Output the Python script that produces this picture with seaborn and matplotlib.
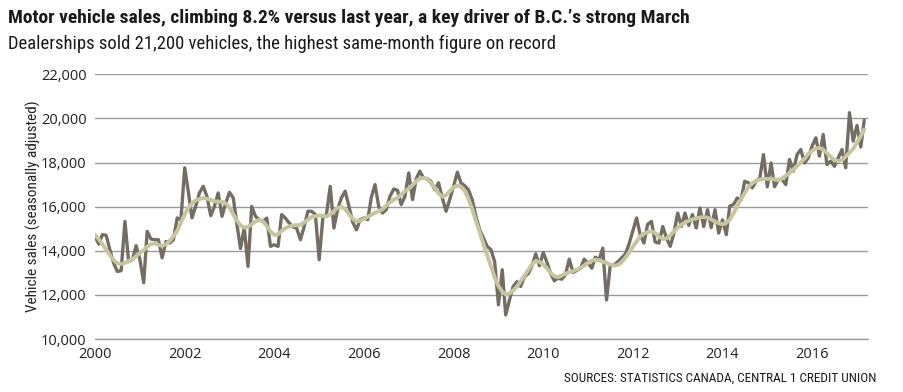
import numpy as np
import pandas as pd
import seaborn as sns
import matplotlib.pyplot as plt
import matplotlib.dates as mdates
from matplotlib.ticker import FuncFormatter
from matplotlib import font_manager

"""
Data - monthly B.C. motor vehicle sales, Jan 2000 to Mar 2017 (read off the chart)
"""
sales = [
    14650, 14300, 14730, 14700, 14050, 13440, 13060, 13100, 15330, 13510,
    13600, 14230, 13600, 12550, 14880, 14530, 14500, 14500, 13680, 14420,
    14350, 14500, 15490, 15400, 17760, 16620, 15490, 16020, 16620, 16920,
    16470, 15590, 16020, 16620, 15560, 16160, 16650, 16390, 15260, 14100,
    15050, 13290, 16010, 15560, 15400, 15330, 15480, 14200, 14270, 14200,
    15640, 15480, 15260, 15080, 15030, 14500, 15100, 15790, 15790, 15640,
    13590, 15560, 15640, 16920, 15030, 15900, 16400, 16700, 16000, 15300,
    14950, 15410, 15490, 15410, 16400, 17000, 16010, 15710, 15860, 16470,
    16800, 16740, 16090, 16470, 17530, 16320, 17230, 17610, 17300, 17260,
    17150, 16770, 17080, 16400, 15790, 16320, 16920, 17560, 17080, 16950,
    16770, 16320, 15560, 14960, 14580, 14200, 14050, 13500, 11550, 13140,
    11090, 11770, 12380, 12600, 12380, 12830, 12960, 13320, 13860, 13320,
    13920, 13470, 12990, 12640, 12760, 12710, 12910, 13620, 13020, 13110,
    13200, 13620, 13440, 13210, 13710, 13590, 14120, 11770, 13320, 13360,
    13500, 13670, 13850, 14300, 14900, 15490, 14730, 14350, 15200, 15330,
    14400, 14350, 15100, 14580, 14200, 14800, 15710, 15100, 15710, 15150,
    15640, 15030, 15940, 15100, 15860, 15050, 15860, 14800, 15400, 14730,
    16020, 16100, 16390, 16300, 17150, 17080, 16850, 17150, 17300, 18360,
    16900, 17980, 16900, 17230, 17230, 17000, 18140, 17610, 18360, 18590,
    17980, 18210, 18740, 19120, 18290, 19270, 17910, 18060, 17830, 18210,
    18590, 17760, 20260, 18970, 19680, 18700, 19920,
]

# smoothed trend line (light line on the chart)
trend = [
    14730, 14520, 14300, 14050, 13800, 13580, 13430, 13400, 13450, 13530,
    13620, 13760, 13900, 14030, 14180, 14300, 14340, 14270, 14220, 14300,
    14450, 14650, 14900, 15280, 15650, 15950, 16150, 16280, 16350, 16390,
    16360, 16300, 16250, 16230, 16220, 16150, 15950, 15650, 15380, 15150,
    15050, 15080, 15200, 15330, 15400, 15330, 15120, 14880, 14720, 14750,
    14900, 15030, 15100, 15140, 15160, 15170, 15280, 15420, 15530, 15570,
    15600, 15580, 15560, 15650, 15800, 15950, 16000, 15880, 15650, 15450,
    15330, 15360, 15450, 15540, 15620, 15720, 15800, 15880, 16050, 16200,
    16320, 16400, 16550, 16700, 16820, 16980, 17150, 17270, 17300, 17240,
    17080, 16850, 16600, 16450, 16520, 16700, 16880, 16950, 16900, 16720,
    16350, 15900, 15350, 14850, 14300, 13800, 13300, 12800, 12400, 12150,
    12020, 12060, 12200, 12380, 12620, 12870, 13130, 13380, 13540, 13500,
    13380, 13200, 13000, 12850, 12800, 12880, 12960, 13020, 13080, 13150,
    13220, 13330, 13450, 13550, 13590, 13570, 13500, 13450, 13380, 13330,
    13350, 13480, 13680, 13920, 14180, 14420, 14650, 14780, 14850, 14880,
    14800, 14640, 14540, 14560, 14700, 14880, 15050, 15180, 15280, 15360,
    15420, 15470, 15510, 15530, 15500, 15420, 15330, 15250, 15200, 15260,
    15420, 15700, 16020, 16340, 16620, 16900, 17060, 17170, 17230, 17250,
    17260, 17260, 17230, 17200, 17270, 17400, 17530, 17680, 17850, 18000,
    18180, 18380, 18530, 18640, 18670, 18580, 18420, 18260, 18110, 18060,
    18120, 18270, 18450, 18620, 18900, 19200, 19500,
]

months = pd.date_range('2000-01-01', periods=len(sales), freq='MS')
df = pd.DataFrame({'Date': months, 'Sales': sales, 'Trend': trend})

year_ticks = [2000, 2002, 2004, 2006, 2008, 2010, 2012, 2014, 2016]
y_ticks = [10000, 12000, 14000, 16000, 18000, 20000, 22000]

"""
Fonts - want a condensed face for the headline text
"""
installed = {f.name for f in font_manager.fontManager.ttflist}
narrow = 'DejaVu Sans'
for name in ['Roboto Condensed', 'Liberation Sans Narrow', 'Open Sans Condensed', 'Lato', 'Roboto']:
    if name in installed:
        narrow = name
        break

"""
Plot
"""
sns.set_style('white')
plt.rcParams['font.family'] = [narrow, 'DejaVu Sans']

fig = plt.figure(figsize=(9.04, 3.92), dpi=100)
ax = fig.add_axes([0.1051, 0.1352, 0.8551, 0.6753])

sns.lineplot(data=df, x='Date', y='Sales', color='#746d64', linewidth=2.4, ax=ax)
sns.lineplot(data=df, x='Date', y='Trend', color='#c7c5a0', linewidth=2.8, ax=ax)

ax.set_xlim(pd.Timestamp('2000-01-01'), pd.Timestamp('2017-04-01'))
ax.set_ylim(10000, 22000)
ax.set_xticks([pd.Timestamp(f'{y}-01-01') for y in year_ticks])
ax.xaxis.set_major_formatter(mdates.DateFormatter('%Y'))
ax.set_yticks(y_ticks)
ax.yaxis.set_major_formatter(FuncFormatter(lambda v, p: f'{int(v):,}'))

ax.yaxis.grid(True, color='#9b9b9b', linewidth=1)
ax.axhline(10000, color='#9b9b9b', linewidth=1, clip_on=False, zorder=0)
ax.set_axisbelow(True)
for s in ax.spines.values():
    s.set_visible(False)
ax.tick_params(length=0, pad=6, labelsize=10.5, labelcolor='#222222')
for lab in ax.get_xticklabels() + ax.get_yticklabels():
    lab.set_family(['Open Sans', 'DejaVu Sans'])

ax.set_xlabel('')
ax.set_ylabel('Vehicle sales (seasonally adjusted)', fontsize=11, color='#222222', labelpad=0)

fig.text(0.009, 0.955, 'Motor vehicle sales, climbing 8.2% versus last year, a key driver of B.C.\u2019s strong March',
         fontsize=14, fontweight='bold', color='#1a1a1a', va='center', ha='left')
fig.text(0.009, 0.888, 'Dealerships sold 21,200 vehicles, the highest same-month figure on record',
         fontsize=13.4, color='#1a1a1a', va='center', ha='left')
fig.text(0.969, 0.036, 'SOURCES: STATISTICS CANADA, CENTRAL 1 CREDIT UNION',
         fontsize=9.5, color='#1a1a1a', va='center', ha='right')

fig.savefig('out.png', dpi=100)
